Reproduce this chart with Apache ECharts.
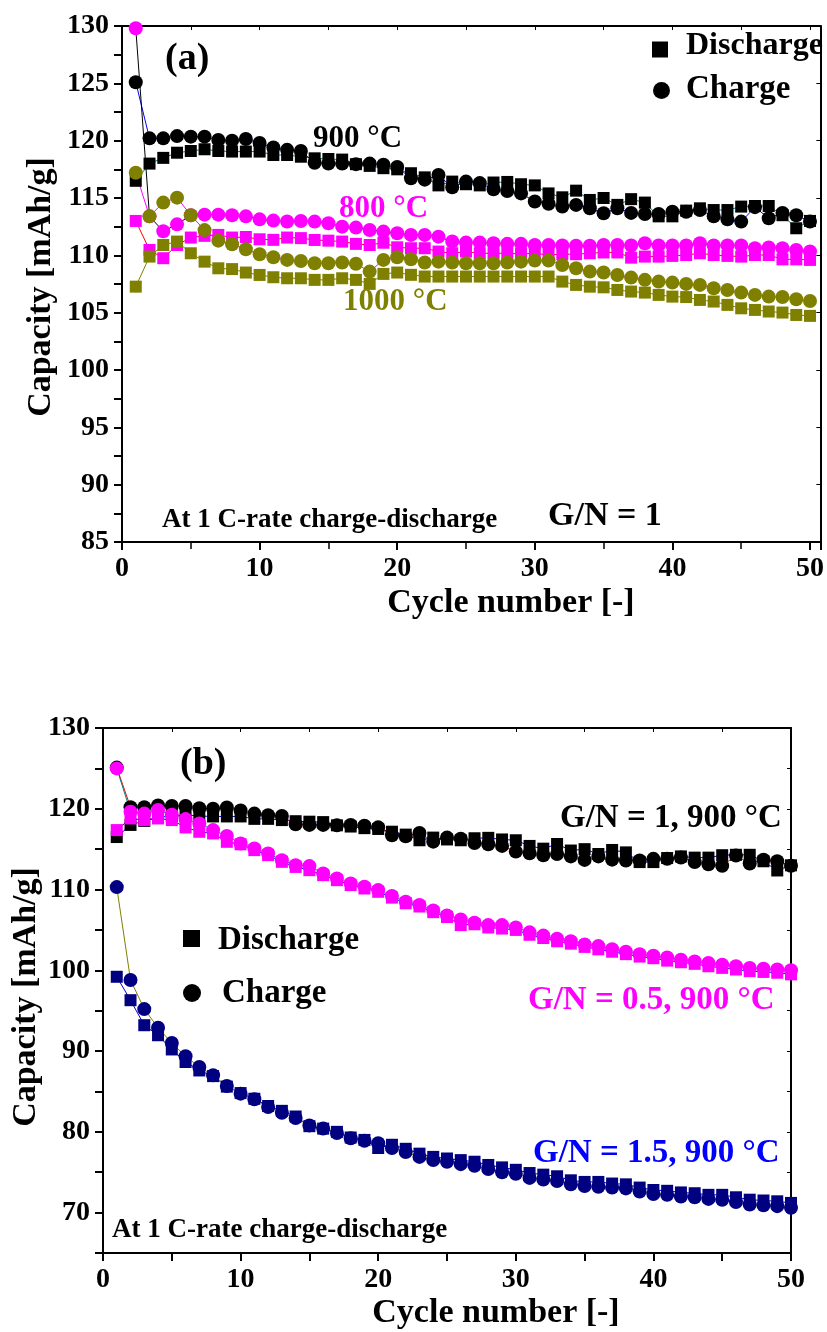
<!DOCTYPE html>
<html>
<head>
<meta charset="utf-8">
<script src="https://cdn.jsdelivr.net/npm/echarts@6/dist/echarts.min.js"></script>
<style>
  html, body { margin: 0; padding: 0; background: #fff; }
  #chart { width: 827px; height: 1332px; }
</style>
</head>
<body>
<div id="chart"></div>
<script>
// Cycle index shared by every curve
const cycles = Array.from({ length: 50 }, (_, i) => i + 1);

// Panel (a): G/N = 1 at three calcination temperatures (mAh/g)
const dis900 = [
  116.5, 118.0, 118.5, 118.95, 119.1, 119.25, 119.1, 119.05, 119.05, 119.05,
  118.75, 118.75, 118.6, 118.46, 118.4, 118.35, 117.95, 117.8, 117.6, 117.5,
  117.16, 116.8, 116.1, 116.43, 116.2, 116.1, 116.35, 116.4, 116.2, 116.1,
  115.4, 115.06, 115.64, 114.83, 115.0, 114.4, 114.9, 114.6, 113.4, 113.4,
  113.9, 114.1, 113.95, 113.95, 114.25, 114.3, 114.3, 113.5, 112.36, 113.0
];
const chg900 = [
  125.1, 120.2, 120.2, 120.4, 120.35, 120.35, 120.06, 120.0, 120.15, 119.8,
  119.4, 119.2, 119.1, 118.08, 118.0, 118.0, 117.95, 118.0, 117.9, 117.7,
  116.72, 116.6, 117.0, 115.93, 116.43, 116.3, 115.76, 115.6, 115.4, 114.7,
  114.5, 114.25, 114.4, 114.1, 113.67, 114.1, 113.7, 113.6, 113.6, 113.8,
  113.8, 113.96, 113.4, 113.14, 112.94, 114.2, 113.23, 113.7, 113.5, 112.94
];
const dis800 = [
  113.0, 110.47, 109.75, 110.9, 111.55, 111.7, 111.78, 111.55, 111.6, 111.4,
  111.35, 111.55, 111.5, 111.34, 111.28, 111.2, 111.0, 110.9, 111.1, 110.7,
  110.62, 110.62, 110.33, 110.18, 110.33, 110.18, 110.18, 110.18, 110.12, 110.18,
  110.03, 110.1, 110.1, 110.18, 110.25, 110.25, 109.8, 109.89, 109.89, 109.95,
  110.03, 110.18, 110.03, 109.95, 109.89, 110.03, 110.03, 109.65, 109.65, 109.6
];
const chg800 = [
  129.8, 113.4, 112.1, 112.7, 113.5, 113.55, 113.55, 113.5, 113.4, 113.14,
  113.03, 112.95, 113.0, 112.94, 112.8, 112.5, 112.42, 112.21, 112.07, 111.92,
  111.78, 111.78, 111.63, 111.2, 111.11, 111.11, 111.05, 111.0, 111.0, 110.9,
  110.9, 110.86, 110.83, 110.83, 110.9, 110.9, 110.86, 111.05, 110.86, 110.86,
  110.86, 111.05, 110.86, 110.86, 110.86, 110.62, 110.68, 110.62, 110.47, 110.33
];
const dis1000 = [
  107.27, 109.89, 110.9, 111.2, 110.18, 109.45, 108.87, 108.8, 108.5, 108.29,
  108.09, 108.0, 108.0, 107.86, 107.86, 108.0, 107.86, 107.51, 108.38, 108.5,
  108.3, 108.15, 108.15, 108.15, 108.15, 108.15, 108.15, 108.15, 108.15, 108.15,
  108.15, 107.71, 107.42, 107.27, 107.21, 106.98, 106.84, 106.75, 106.55, 106.4,
  106.36, 106.11, 105.97, 105.68, 105.38, 105.24, 105.1, 105.01, 104.8, 104.72
];
const chg1000 = [
  117.2, 113.4, 114.6, 115.03, 113.5, 112.2, 111.28, 110.97, 110.53, 110.1,
  109.83, 109.6, 109.5, 109.31, 109.31, 109.37, 109.26, 108.58, 109.6, 109.83,
  109.66, 109.37, 109.45, 109.37, 109.31, 109.31, 109.31, 109.37, 109.45, 109.54,
  109.54, 109.16, 108.87, 108.58, 108.5, 108.29, 108.06, 107.86, 107.71, 107.62,
  107.51, 107.42, 107.13, 106.98, 106.75, 106.55, 106.4, 106.36, 106.17, 106.02
];

// Panel (b): 900 °C at three G/N ratios (G/N = 1 is the 900 °C sample above)
const disGN05 = [
  117.36, 118.8, 118.6, 118.8, 118.6, 117.69, 117.15, 116.95, 115.91, 115.6,
  114.88, 114.26, 113.43, 112.8, 112.4, 111.78, 111.16, 110.55, 110.13, 109.72,
  109.0, 108.3, 107.9, 107.2, 106.6, 105.6, 105.7, 105.3, 105.17, 105.0,
  104.4, 104.0, 103.6, 103.3, 102.9, 102.6, 102.3, 102.0, 101.7, 101.5,
  101.2, 101.0, 100.8, 100.5, 100.3, 100.1, 99.9, 99.8, 99.7, 99.5
];
const chgGN05 = [
  125.0, 119.63, 119.4, 119.84, 119.26, 118.72, 118.19, 117.36, 116.62, 115.71,
  115.09, 114.47, 113.64, 113.02, 112.9, 112.0, 111.37, 110.75, 110.34, 109.93,
  109.2, 108.5, 108.1, 107.4, 106.8, 106.3, 105.9, 105.6, 105.6, 105.3,
  104.7, 104.3, 103.9, 103.6, 103.2, 103.0, 102.6, 102.3, 102.0, 101.8,
  101.6, 101.3, 101.1, 100.9, 100.7, 100.5, 100.3, 100.2, 100.1, 100.0
];
const disGN15 = [
  99.2, 96.3, 93.2, 91.96, 90.2, 88.65, 87.6, 86.9, 85.6, 84.8,
  84.1, 83.2, 82.6, 81.9, 80.7, 80.4, 80.0, 79.3, 79.0, 78.0,
  78.4, 77.9, 77.3, 76.9, 76.7, 76.5, 76.3, 75.9, 75.6, 75.3,
  74.9, 74.7, 74.5, 74.0, 73.8, 73.8, 73.6, 73.5, 73.1, 72.8,
  72.7, 72.5, 72.4, 72.2, 72.2, 71.9, 71.6, 71.5, 71.4, 71.2
];
const chgGN15 = [
  110.3, 98.8, 95.2, 92.9, 91.0, 89.36, 88.03, 87.0, 85.68, 84.73,
  84.03, 83.07, 82.37, 81.71, 80.8, 80.4, 79.85, 79.2, 78.9, 78.6,
  78.0, 77.5, 76.9, 76.5, 76.3, 76.0, 75.8, 75.4, 75.0, 74.8,
  74.3, 74.1, 73.9, 73.5, 73.3, 73.2, 73.1, 73.0, 72.6, 72.3,
  72.2, 72.0, 71.9, 71.7, 71.6, 71.3, 71.0, 70.9, 70.8, 70.6
];

const FONT = '"Liberation Serif", "Times New Roman", serif';
const BLACK = '#000000', MAGENTA = '#ff00ff', OLIVE = '#808000', NAVY = '#000080';

const chart = echarts.init(document.getElementById('chart'), null, { renderer: 'canvas' });

function bottomAxis(grid, max, interval, labelEvery, minor) {
  return {
    gridIndex: grid, type: 'value', position: 'bottom', min: 0, max: max, interval: interval,
    axisLine: { onZero: false, lineStyle: { color: BLACK, width: 2 } },
    axisTick: { inside: false, length: 8, lineStyle: { color: BLACK, width: 2 } },
    minorTick: { show: minor, splitNumber: 2, length: 7, lineStyle: { color: BLACK, width: 1.5 } },
    axisLabel: {
      margin: 13, color: BLACK, fontSize: 28, fontWeight: 'bold', fontFamily: FONT,
      formatter: v => (Math.abs(v % labelEvery) < 1e-6 ? String(v) : '')
    },
    splitLine: { show: false }
  };
}
function leftAxis(grid, min, max, interval, labelEvery, minor) {
  return {
    gridIndex: grid, type: 'value', position: 'left', min: min, max: max, interval: interval,
    axisLine: { onZero: false, lineStyle: { color: BLACK, width: 2 } },
    axisTick: { inside: false, length: 8, lineStyle: { color: BLACK, width: 2 } },
    minorTick: { show: minor, splitNumber: 2, length: 8, lineStyle: { color: BLACK, width: 2 } },
    axisLabel: {
      margin: 13, color: BLACK, fontSize: 28, fontWeight: 'bold', fontFamily: FONT,
      formatter: v => (Math.abs(v % labelEvery) < 1e-6 ? String(v) : '')
    },
    splitLine: { show: false }
  };
}
function frameAxis(kind, grid, min, max, interval) {
  return {
    gridIndex: grid, type: 'value', position: kind, min: min, max: max, interval: interval,
    axisLine: { onZero: false, lineStyle: { color: BLACK, width: 2 } },
    axisTick: { inside: true, length: 4, lineStyle: { color: BLACK, width: 1 } },
    axisLabel: { show: false },
    splitLine: { show: false }
  };
}

function curve(name, axis, values, symbol, size, color, lineColor) {
  return {
    name: name, type: 'line', xAxisIndex: axis, yAxisIndex: axis,
    data: cycles.map((c, i) => [c, values[i]]),
    symbol: symbol, symbolSize: size, showSymbol: true,
    itemStyle: { color: color, borderWidth: 0 },
    lineStyle: { color: lineColor, width: 1 },
    animation: false, silent: true
  };
}

function label(text, x, y, size, color, align) {
  return {
    type: 'text', x: x, y: y, silent: true,
    style: {
      text: text, fill: color, fontSize: size, fontWeight: 'bold', fontFamily: FONT,
      align: align || 'left', verticalAlign: 'middle'
    }
  };
}
function vlabel(text, x, y, size) {
  return {
    type: 'text', x: x, y: y, rotation: Math.PI / 2, silent: true,
    style: {
      text: text, fill: BLACK, fontSize: size, fontWeight: 'bold', fontFamily: FONT,
      align: 'center', verticalAlign: 'middle'
    }
  };
}

const SQ_A = 12, CI_A = 14, SQ_B = 12, CI_B = 14;

chart.setOption({
  backgroundColor: '#ffffff',
  animation: false,
  grid: [
    { left: 122, top: 26, width: 700, height: 516 },
    { left: 103, top: 728, width: 688, height: 525 }
  ],
  xAxis: [
    bottomAxis(0, 50.75, 10, 10, true),
    bottomAxis(1, 50, 5, 10, false),
    frameAxis('top', 0, 0, 50.75, 5),
    frameAxis('top', 1, 0, 50, 5)
  ],
  yAxis: [
    leftAxis(0, 85, 130, 5, 5, true),
    leftAxis(1, 65, 130, 5, 10, false),
    frameAxis('right', 0, 85, 130, 5),
    frameAxis('right', 1, 65, 130, 5)
  ],
  series: [
    curve('900 °C discharge', 0, dis900, 'rect', SQ_A, BLACK, '#008080'),
    curve('900 °C charge', 0, chg900, 'circle', CI_A, BLACK, '#0000ff'),
    curve('800 °C discharge', 0, dis800, 'rect', SQ_A, MAGENTA, '#ff0000'),
    curve('800 °C charge', 0, chg800, 'circle', CI_A, MAGENTA, BLACK),
    curve('1000 °C discharge', 0, dis1000, 'rect', SQ_A, OLIVE, OLIVE),
    curve('1000 °C charge', 0, chg1000, 'circle', CI_A, OLIVE, MAGENTA),

    curve('G/N = 1 discharge', 1, dis900, 'rect', SQ_B, BLACK, '#0000ff'),
    curve('G/N = 1 charge', 1, chg900, 'circle', CI_B, BLACK, '#ff0000'),
    curve('G/N = 0.5 discharge', 1, disGN05, 'rect', SQ_B, MAGENTA, '#0000ff'),
    curve('G/N = 0.5 charge', 1, chgGN05, 'circle', CI_B, MAGENTA, '#008080'),
    curve('G/N = 1.5 discharge', 1, disGN15, 'rect', SQ_B, NAVY, '#0000cc'),
    curve('G/N = 1.5 charge', 1, chgGN15, 'circle', CI_B, NAVY, OLIVE)
  ],
  graphic: [
    // panel (a) annotations
    label('(a)', 165, 59, 38, BLACK),
    label('900 °C', 313, 139, 31, BLACK),
    label('800 °C', 339, 209, 31, MAGENTA),
    label('1000 °C', 343, 302, 31, OLIVE),
    label('At 1 C-rate charge-discharge', 162, 520, 27, BLACK),
    label('G/N = 1', 548, 516, 34, BLACK),
    { type: 'rect', shape: { x: 652, y: 41.5, width: 16, height: 16 }, style: { fill: BLACK }, silent: true },
    label('Discharge', 686, 46, 32, BLACK),
    { type: 'circle', shape: { cx: 661.5, cy: 90.5, r: 8.5 }, style: { fill: BLACK }, silent: true },
    label('Charge', 686, 89, 33, BLACK),
    label('Cycle number [-]', 511, 603, 34, BLACK, 'center'),
    vlabel('Capacity [mAh/g]', 41, 287, 34),

    // panel (b) annotations
    label('(b)', 180, 764, 38, BLACK),
    label('G/N = 1, 900 °C', 560, 818, 33, BLACK),
    label('G/N = 0.5, 900 °C', 528, 1000, 33, MAGENTA),
    label('G/N = 1.5, 900 °C', 533, 1153, 33, '#0000ff'),
    label('At 1 C-rate charge-discharge', 112, 1230, 27, BLACK),
    { type: 'rect', shape: { x: 183, y: 930, width: 17, height: 17 }, style: { fill: BLACK }, silent: true },
    label('Discharge', 218, 940, 33, BLACK),
    { type: 'circle', shape: { cx: 192, cy: 993, r: 9 }, style: { fill: BLACK }, silent: true },
    label('Charge', 222, 993, 33, BLACK),
    label('Cycle number [-]', 496, 1313, 34, BLACK, 'center'),
    vlabel('Capacity [mAh/g]', 26, 997, 34)
  ]
});
</script>
</body>
</html>
